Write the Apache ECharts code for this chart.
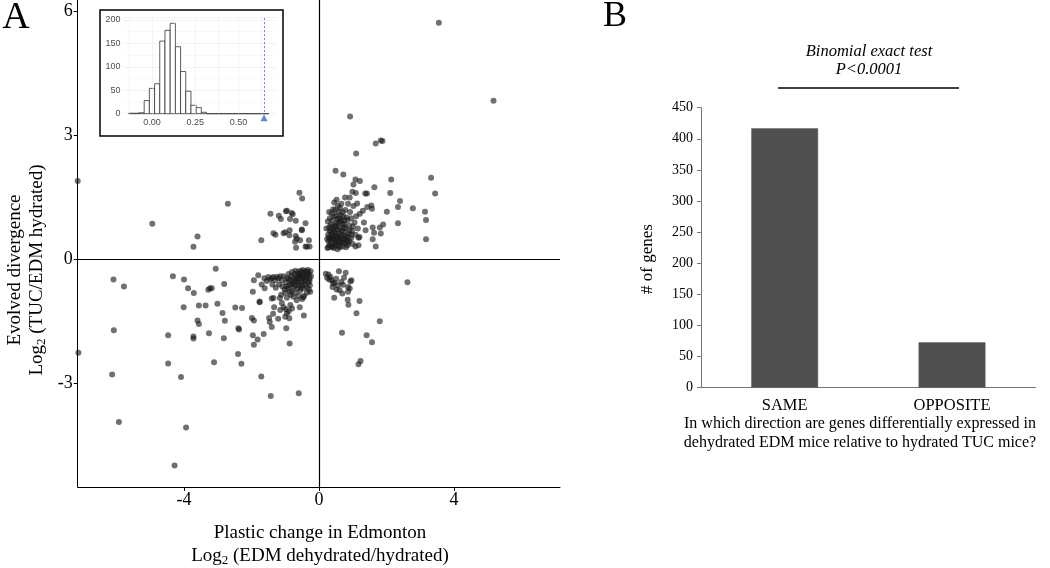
<!DOCTYPE html>
<html><head><meta charset="utf-8">
<script src="https://cdn.jsdelivr.net/npm/echarts@6/dist/echarts.min.js"></script>
<style>html,body{margin:0;padding:0;background:#fff}#c{width:1050px;height:568px}</style>
</head><body><div id="c"></div>
<script>
// ---------- Panel A: scatter data (log2 plastic change, log2 evolved divergence) ----------
const sameUpSparse = [[3.55,5.73],[5.17,3.84],[0.92,3.46],[1.68,2.81],[1.83,2.88],[1.88,2.87],[1.10,2.57],[0.49,2.15],[0.72,2.06],[1.08,1.94],[1.21,1.90],[1.02,1.82],[2.14,1.94],[3.32,1.98],[3.44,1.60],[1.64,1.75],[2.11,1.61],[1.37,1.60],[1.42,1.60],[1.09,1.61],[0.99,1.64],[0.91,1.50],[0.77,1.50],[1.13,1.36],[1.55,1.31],[1.57,1.23],[1.43,1.27],[1.30,1.18],[1.21,1.11],[2.40,1.42],[2.34,1.27],[2.78,1.24],[3.14,1.16],[2.01,1.16],[3.17,0.96],[2.34,0.88],[3.17,0.49],[1.90,0.85],[1.80,0.78],[1.83,0.63],[1.59,0.78],[1.59,0.49],[1.68,0.32],[1.63,0.65],[1.33,0.90],[1.38,0.71],[1.17,0.53],[1.08,0.32],[1.17,0.35]];
const sameUpDense = [[0.25,0.28],[0.3,0.35],[0.28,0.45],[0.33,0.52],[0.27,0.6],[0.35,0.68],[0.3,0.78],[0.26,0.92],[0.32,1.0],[0.38,1.12],[0.42,1.22],[0.45,1.38],[0.52,1.45],[0.4,0.3],[0.45,0.38],[0.42,0.5],[0.48,0.58],[0.44,0.66],[0.5,0.72],[0.46,0.82],[0.52,0.9],[0.55,0.98],[0.5,1.06],[0.58,1.15],[0.62,1.25],[0.55,0.25],[0.58,0.33],[0.62,0.42],[0.56,0.48],[0.65,0.55],[0.6,0.63],[0.68,0.7],[0.63,0.78],[0.7,0.86],[0.66,0.95],[0.72,1.05],[0.7,0.32],[0.75,0.4],[0.72,0.5],[0.78,0.58],[0.74,0.66],[0.82,0.45],[0.85,0.35],[0.8,0.75],[0.88,0.62],[0.9,0.82],[0.85,0.95],[0.95,0.52],[0.98,0.7],[1.0,0.38],[1.05,0.9],[1.1,1.05],[0.92,1.15],[1.02,1.3],[1.15,0.75],[1.2,0.55],[0.35,0.85],[0.4,0.95],[0.48,0.42],[0.38,0.6],[0.36,0.4],[0.6,0.52],[0.52,0.62],[0.66,0.45],[0.58,0.72],[0.76,0.85],[0.82,1.02],[0.64,1.08],[0.44,1.05],[0.32,0.7],[0.5,0.35],[0.8,0.3],[0.9,0.45],[1.08,0.6],[0.95,1.0],[0.78,1.2],[0.86,1.35],[0.3,1.15],[0.22,0.75],[0.24,0.5],[0.34,0.48],[0.4,0.55],[0.46,0.5],[0.54,0.55],[0.42,0.72],[0.5,0.8],[0.56,0.86],[0.62,0.92],[0.68,0.6],[0.74,0.78],[0.36,0.32],[0.44,0.28],[0.62,0.3],[0.7,0.4],[0.78,0.5],[0.84,0.55],[0.54,0.42],[0.38,0.8],[0.3,0.55],[0.28,0.3],[0.6,1.0],[0.7,1.15],[0.9,0.7],[1.0,0.8],[0.96,0.6],[0.86,0.4],[0.48,1.2],[0.56,1.3],[0.66,1.35],[0.75,0.95]];
const oppUpLeft = [[-7.15,1.90],[-4.94,0.87],[-2.70,1.35],[-3.60,0.56],[-3.72,0.31],[-1.44,1.11],[-1.71,0.47],[-0.58,1.62],[-0.50,1.48],[-0.98,1.17],[-0.95,1.18],[-0.81,1.13],[-0.78,1.10],[-1.19,1.06],[-1.13,0.98],[-0.86,0.98],[-0.69,0.94],[-0.40,0.88],[-0.51,0.73],[-0.87,0.71],[-1.05,0.64],[-1.00,0.66],[-1.35,0.64],[-1.29,0.60],[-0.88,0.59],[-0.69,0.57],[-0.66,0.51],[-0.71,0.43],[-0.56,0.47],[-0.68,0.29],[-0.40,0.32],[-0.30,0.47],[-0.36,0.31],[-0.28,0.32],[-0.51,0.71]];
const oppDownRight = [[0.2,-0.34],[0.24,-0.44],[0.30,-0.48],[0.37,-0.50],[0.42,-0.58],[0.40,-0.66],[0.51,-0.46],[0.59,-0.28],[0.79,-0.32],[0.56,-0.62],[0.66,-0.54],[0.71,-0.61],[0.61,-0.74],[0.69,-0.82],[0.86,-0.66],[0.93,-0.53],[0.96,-0.50],[0.91,-0.70],[0.86,-0.78],[0.45,-0.92],[0.85,-0.97],[0.87,-1.09],[1.20,-1.00],[1.11,-1.30],[1.80,-1.49],[0.68,-1.77],[1.41,-1.83],[1.57,-2.00],[1.23,-2.45],[1.17,-2.53],[2.62,-0.55],[0.28,-0.36],[0.34,-0.42],[0.46,-0.56],[0.52,-0.72],[0.74,-0.44]];
const sameDownSparse = [[-6.09,-0.48],[-5.78,-0.65],[-6.08,-1.71],[-7.13,-2.25],[-6.13,-2.78],[-5.93,-3.93],[-3.94,-4.06],[-4.28,-4.98],[-4.33,-0.40],[-4.00,-0.48],[-3.88,-0.69],[-3.71,-0.81],[-3.06,-0.22],[-2.81,-0.59],[-3.28,-0.73],[-3.23,-0.69],[-3.18,-0.69],[-4.01,-1.15],[-3.56,-1.11],[-3.36,-1.11],[-3.01,-1.07],[-2.48,-1.16],[-2.28,-1.17],[-2.86,-1.29],[-2.79,-1.48],[-3.60,-1.47],[-3.56,-1.56],[-4.47,-1.83],[-3.72,-1.86],[-3.72,-1.91],[-3.26,-1.78],[-2.82,-1.90],[-4.47,-2.51],[-4.09,-2.84],[-3.11,-2.48],[-1.96,-0.78],[-1.93,-0.50],[-1.80,-0.38],[-1.61,-0.69],[-1.76,-1.01],[-1.99,-1.41],[-1.93,-1.47],[-2.39,-1.66],[-2.37,-1.69],[-1.96,-1.83],[-1.82,-1.93],[-1.93,-2.06],[-1.64,-1.80],[-1.40,-1.63],[-1.48,-1.41],[-1.46,-1.51],[-1.36,-1.31],[-1.21,-1.43],[-1.33,-1.15],[-0.97,-1.66],[-0.87,-2.03],[-0.45,-1.35],[-2.40,-2.28],[-2.30,-2.52],[-1.71,-2.83],[-1.43,-3.30],[-0.60,-3.23],[-0.57,-1.15],[-0.47,-0.91],[-1.76,-1.03],[-1.40,-0.94],[-1.35,-0.93],[-1.16,-0.93]];
const sameDownDense = [[-0.25,-0.28],[-0.3,-0.35],[-0.28,-0.45],[-0.35,-0.3],[-0.38,-0.42],[-0.32,-0.55],[-0.27,-0.62],[-0.4,-0.5],[-0.45,-0.35],[-0.42,-0.6],[-0.48,-0.45],[-0.5,-0.3],[-0.52,-0.55],[-0.46,-0.7],[-0.55,-0.38],[-0.58,-0.48],[-0.6,-0.62],[-0.56,-0.75],[-0.62,-0.3],[-0.65,-0.4],[-0.68,-0.52],[-0.64,-0.7],[-0.7,-0.8],[-0.72,-0.35],[-0.75,-0.45],[-0.78,-0.58],[-0.74,-0.66],[-0.8,-0.75],[-0.82,-0.4],[-0.85,-0.5],[-0.88,-0.62],[-0.84,-0.85],[-0.9,-0.35],[-0.95,-0.45],[-0.98,-0.55],[-0.92,-0.7],[-1.0,-0.8],[-1.05,-0.4],[-1.1,-0.5],[-1.08,-0.65],[-1.15,-0.4],[-1.2,-0.45],[-1.18,-0.6],[-1.25,-0.42],[-1.3,-0.5],[-1.35,-0.42],[-1.4,-0.45],[-1.45,-0.48],[-1.5,-0.42],[-1.55,-0.52],[-1.28,-0.68],[-1.12,-0.85],[-0.95,-0.92],[-0.3,-0.72],[-0.36,-0.8],[-0.44,-0.88],[-0.5,-0.95],[-0.6,-0.88],[-0.66,-0.98],[-0.33,-0.25],[-0.4,-0.28],[-0.47,-0.25],[-0.55,-0.27],[-0.7,-0.27],[-0.8,-0.3],[-0.34,-0.38],[-0.44,-0.52],[-0.5,-0.62],[-0.62,-0.55],[-0.7,-0.62],[-0.58,-0.4],[-0.66,-0.46],[-0.74,-0.52],[-0.82,-0.6],[-0.9,-0.48],[-0.36,-0.66],[-0.28,-0.52],[-0.54,-0.68],[-0.96,-0.65],[-1.02,-0.72],[-0.86,-0.78],[-0.76,-0.9],[-1.38,-0.6],[-1.62,-0.45],[-1.7,-0.6],[-0.24,-0.4],[-0.26,-0.78],[-0.42,-0.4],[-0.52,-0.42],[-0.6,-0.35],[-1.1,-1.05],[-1.05,-1.15],[-0.98,-1.2],[-0.95,-1.3],[-1.0,-1.38],[-0.9,-1.25],[-0.88,-1.42],[-1.15,-1.22],[-0.85,-1.1],[-0.8,-1.18]];
const scatterXTicks = [-4, 0, 4];
const scatterYTicks = [-3, 0, 3, 6];

// ---------- Inset: permutation histogram ----------
const histBinCenters = [-0.12,-0.09,-0.06,-0.03,0,0.03,0.06,0.09,0.12,0.15,0.18,0.21,0.24,0.27,0.30,0.33,0.36,0.39,0.42,0.45,0.48,0.51,0.54,0.57,0.60,0.63,0.66];
const histCounts = [1,1,2,28,54,64,155,178,193,143,90,48,18,13,3,0,0,0,0,0,0,0,0,0,0,0,0];
const histBinWidth = 0.03;
const observedStat = 0.647;
const insetXTicks = [0, 0.25, 0.5];
const insetXGrid = [-0.125, 0, 0.125, 0.25, 0.375, 0.5, 0.625];

// ---------- Panel B: bar chart ----------
const barCategories = ['SAME', 'OPPOSITE'];
const barValues = [417, 73];

const SERIF = "'Liberation Serif', 'Times New Roman', serif";
const SANS = "'Liberation Sans', Arial, sans-serif";

const genes = [].concat(sameUpSparse, sameUpDense, oppUpLeft, oppDownRight, sameDownSparse, sameDownDense);
const hist = histBinCenters.map((c, i) => [c, histCounts[i]]);

const chart = echarts.init(document.getElementById('c'), null, {renderer: 'canvas'});
chart.setOption({
  animation: false,
  backgroundColor: '#fff',
  grid: [
    {left: 77.7, top: 0, width: 482.3, height: 487},
    {left: 123.4, top: 17.2, width: 153.3, height: 96.5},
    {left: 701, top: 107.7, width: 334.7, height: 280}
  ],
  xAxis: [
    {gridIndex: 0, type: 'value', min: -7.15, max: 7.14,
     axisLine: {onZero: false, lineStyle: {color: '#000', width: 1}},
     axisTick: {customValues: scatterXTicks, length: 4, lineStyle: {color: '#000'}},
     axisLabel: {customValues: scatterXTicks, fontFamily: SERIF, fontSize: 18, color: '#000', margin: 4},
     splitLine: {show: false}},
    {gridIndex: 1, type: 'value', min: -0.165, max: 0.72,
     axisLine: {show: false}, axisTick: {show: false},
     axisLabel: {customValues: insetXTicks, formatter: v => v.toFixed(2), fontFamily: SANS, fontSize: 9, color: '#4d4d4d', margin: 4},
     splitLine: {show: false}},
    {gridIndex: 2, type: 'category', data: barCategories,
     axisLine: {lineStyle: {color: '#777'}},
     axisTick: {length: 5, lineStyle: {color: '#777'}},
     axisLabel: {fontFamily: SERIF, fontSize: 16.5, color: '#000', margin: 9}}
  ],
  yAxis: [
    {gridIndex: 0, type: 'value', min: -5.5, max: 6.28,
     axisLine: {show: true, onZero: false, lineStyle: {color: '#000', width: 1}},
     axisTick: {show: true, customValues: scatterYTicks, length: 4, lineStyle: {color: '#000'}},
     axisLabel: {customValues: scatterYTicks, fontFamily: SERIF, fontSize: 18, color: '#000', margin: 5},
     splitLine: {show: false}},
    {gridIndex: 1, type: 'value', min: 0, max: 206, interval: 50,
     axisLine: {show: false}, axisTick: {show: false},
     axisLabel: {fontFamily: SANS, fontSize: 9, color: '#4d4d4d', margin: 3},
     splitLine: {show: true, lineStyle: {color: '#ebebeb', width: 0.6}},
     minorTick: {show: false, splitNumber: 2},
     minorSplitLine: {show: true, lineStyle: {color: '#f3f3f3', width: 0.5}}},
    {gridIndex: 2, type: 'value', min: 0, max: 450, interval: 50,
     axisLine: {show: true, lineStyle: {color: '#777'}},
     axisTick: {show: true, length: 4, lineStyle: {color: '#777'}},
     axisLabel: {fontFamily: SERIF, fontSize: 14, color: '#000', margin: 8},
     splitLine: {show: false}}
  ],
  series: [
    {type: 'scatter', xAxisIndex: 0, yAxisIndex: 0, data: genes, symbolSize: 6, clip: true,
     itemStyle: {color: 'rgba(25,25,25,0.78)'}, silent: true,
     markLine: {silent: true, symbol: ['none', 'none'], label: {show: false},
       lineStyle: {color: '#000', width: 1.2, type: 'solid'},
       data: [{xAxis: 0}, {yAxis: 0}]}},
    {type: 'line', xAxisIndex: 1, yAxisIndex: 1, data: [], z: 1, silent: true,
     markLine: {silent: true, symbol: ['none', 'none'], label: {show: false},
       lineStyle: {color: '#ececec', width: 0.6, type: 'solid'},
       data: insetXGrid.map(v => ({xAxis: v}))}},
    {type: 'custom', xAxisIndex: 1, yAxisIndex: 1, data: hist, z: 3, silent: true,
     renderItem: function (params, api) {
       const c = api.value(0), n = api.value(1);
       const p0 = api.coord([c - histBinWidth / 2, n]);
       const p1 = api.coord([c + histBinWidth / 2, 0]);
       return {type: 'rect', shape: {x: p0[0], y: p0[1], width: p1[0] - p0[0], height: p1[1] - p0[1]},
               style: {fill: '#fff', stroke: '#333', lineWidth: 0.8}};
     }},
    {type: 'scatter', xAxisIndex: 1, yAxisIndex: 1, data: [[observedStat, 0]], z: 5, clip: false, silent: true,
     symbol: 'triangle', symbolSize: 7, symbolOffset: [0, 4], itemStyle: {color: '#3b66c8'},
     markLine: {silent: true, symbol: ['none', 'none'], label: {show: false},
       lineStyle: {color: '#4a5ff0', width: 0.8, type: [2, 2]},
       data: [[{coord: [observedStat, 204]}, {coord: [observedStat, 0]}]]}},
    {type: 'bar', xAxisIndex: 2, yAxisIndex: 2, data: barValues, barWidth: '40%', silent: true,
     itemStyle: {color: '#505050', borderColor: '#6a6a6a', borderWidth: 0.5}}
  ],
  graphic: [
    {type: 'rect', shape: {x: 100, y: 10, width: 183, height: 126}, z: 10, silent: true,
     style: {fill: 'none', stroke: '#000', lineWidth: 1.5}},
    {type: 'text', x: 16, y: 18, silent: true,
     style: {text: 'A', fontFamily: SERIF, fontSize: 38, fill: '#000', align: 'center', verticalAlign: 'middle', textAlign: 'center', textVerticalAlign: 'middle'}},
    {type: 'text', x: 615, y: 17, silent: true,
     style: {text: 'B', fontFamily: SERIF, fontSize: 36, fill: '#000', align: 'center', verticalAlign: 'middle', textAlign: 'center', textVerticalAlign: 'middle'}},
    {type: 'text', x: 15, y: 270, rotation: Math.PI / 2, silent: true,
     style: {text: 'Evolved divergence', fontFamily: SERIF, fontSize: 19, fill: '#000', align: 'center', verticalAlign: 'middle', textAlign: 'center', textVerticalAlign: 'middle'}},
    {type: 'text', x: 37, y: 270, rotation: Math.PI / 2, silent: true,
     style: {text: '{a|Log}{s|2}{a| (TUC/EDM hydrated)}', fontFamily: SERIF, fontSize: 19, fill: '#000', align: 'center', verticalAlign: 'middle', textAlign: 'center', textVerticalAlign: 'middle',
       rich: {a: {fontFamily: SERIF, fontSize: 19, fill: '#000'}, s: {fontFamily: SERIF, fontSize: 13, fill: '#000', padding: [10, 0, 0, 0]}}}},
    {type: 'text', x: 320, y: 533, silent: true,
     style: {text: 'Plastic change in Edmonton', fontFamily: SERIF, fontSize: 19, fill: '#000', align: 'center', verticalAlign: 'middle', textAlign: 'center', textVerticalAlign: 'middle'}},
    {type: 'text', x: 320, y: 556, silent: true,
     style: {text: '{a|Log}{s|2}{a| (EDM dehydrated/hydrated)}', fontFamily: SERIF, fontSize: 19, fill: '#000', align: 'center', verticalAlign: 'middle', textAlign: 'center', textVerticalAlign: 'middle',
       rich: {a: {fontFamily: SERIF, fontSize: 19, fill: '#000'}, s: {fontFamily: SERIF, fontSize: 13, fill: '#000', padding: [10, 0, 0, 0]}}}},
    {type: 'text', x: 869, y: 52, silent: true,
     style: {text: 'Binomial exact test', fontFamily: SERIF, fontStyle: 'italic', fontSize: 16.5, fill: '#000', align: 'center', verticalAlign: 'middle', textAlign: 'center', textVerticalAlign: 'middle'}},
    {type: 'text', x: 869, y: 70, silent: true,
     style: {text: 'P<0.0001', fontFamily: SERIF, fontStyle: 'italic', fontSize: 16.5, fill: '#000', align: 'center', verticalAlign: 'middle', textAlign: 'center', textVerticalAlign: 'middle'}},
    {type: 'line', shape: {x1: 778, y1: 88, x2: 959, y2: 88}, silent: true, style: {stroke: '#000', lineWidth: 1.3}},
    {type: 'text', x: 648, y: 259, rotation: Math.PI / 2, silent: true,
     style: {text: '# of genes', fontFamily: SERIF, fontSize: 17, fill: '#000', align: 'center', verticalAlign: 'middle', textAlign: 'center', textVerticalAlign: 'middle'}},
    {type: 'text', x: 860, y: 424, silent: true,
     style: {text: 'In which direction are genes differentially expressed in', fontFamily: SERIF, fontSize: 16, fill: '#000', align: 'center', verticalAlign: 'middle', textAlign: 'center', textVerticalAlign: 'middle'}},
    {type: 'text', x: 860, y: 443, silent: true,
     style: {text: 'dehydrated EDM mice relative to hydrated TUC mice?', fontFamily: SERIF, fontSize: 16, fill: '#000', align: 'center', verticalAlign: 'middle', textAlign: 'center', textVerticalAlign: 'middle'}}
  ]
});
</script></body></html>
